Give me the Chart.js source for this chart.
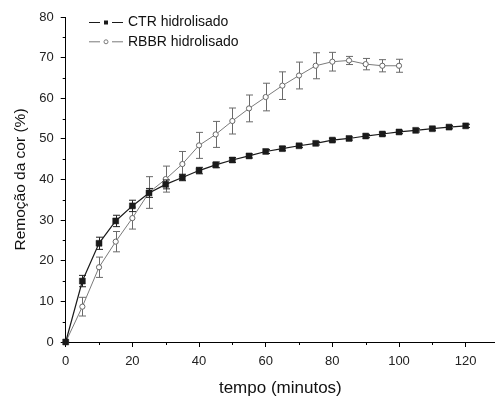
<!DOCTYPE html>
<html>
<head>
<meta charset="utf-8">
<script src="https://cdn.jsdelivr.net/npm/chart.js@4/dist/chart.umd.min.js"></script>
<style>
html,body{margin:0;padding:0;background:#fff;}
#c{display:block;}
</style>
</head>
<body>
<canvas id="c" width="495" height="397"></canvas>
<script>
// ---- data ----
const ctrTime = [0,5,10,15,20,25,30,35,40,45,50,55,60,65,70,75,80,85,90,95,100,105,110,115,120];
const ctrValues = [0,15.0,24.3,29.8,33.5,36.7,38.8,40.5,42.2,43.6,44.8,45.8,46.9,47.6,48.3,48.9,49.7,50.1,50.7,51.2,51.7,52.1,52.5,52.9,53.2];
const ctrErrors = [0,1.4,1.5,1.4,1.4,1.1,1.1,0.8,0.8,0.7,0.6,0.5,0.5,0.5,0.4,0.4,0.4,0.4,0.4,0.4,0.4,0.4,0.4,0.4,0.4];

const rbbrTime = [0,5,10,15,20,25,30,35,40,45,50,55,60,65,70,75,80,85,90,95,100];
const rbbrValues = [0,8.7,18.4,24.7,30.5,36.8,40.1,43.8,48.4,51.1,54.4,57.5,60.3,63.1,65.6,68.0,69.0,69.3,68.4,68.0,68.0];
const rbbrErrors = [0,2.3,2.5,2.5,2.7,3.9,3.2,3.1,3.2,3.2,3.2,3.3,3.4,3.4,3.3,3.2,2.3,1.0,1.4,1.5,1.6];

const seriesNames = ['CTR hidrolisado','RBBR hidrolisado'];
const xTitle = 'tempo (minutos)';
const yTitle = 'Remoção da cor (%)';

const FONT = "'Liberation Sans', Arial, sans-serif";
const CTR_COLOR = '#1a1a1a';
const RBBR_COLOR = '#7a7a7a';

function pts(xs, ys){ return xs.map((x,i)=>({x:x, y:ys[i]})); }

const errorBarPlugin = {
  id:'errorBars',
  beforeDatasetDraw(chart, args){
    const ds = chart.data.datasets[args.index];
    if(!ds.errors) return;
    const meta = chart.getDatasetMeta(args.index);
    const ys = chart.scales.y;
    const ctx = chart.ctx;
    ctx.save();
    ctx.strokeStyle = ds.errorColor;
    ctx.lineWidth = 1;
    meta.data.forEach((el,i)=>{
      const e = ds.errors[i];
      if(!e) return;
      const v = ds.data[i].y;
      const x = Math.round(el.x)+0.5;
      const yt = ys.getPixelForValue(v+e);
      const yb = ys.getPixelForValue(v-e);
      ctx.beginPath();
      ctx.moveTo(x,yt); ctx.lineTo(x,yb);
      ctx.moveTo(x-3.5,yt); ctx.lineTo(x+3.5,yt);
      ctx.moveTo(x-3.5,yb); ctx.lineTo(x+3.5,yb);
      ctx.stroke();
    });
    ctx.restore();
  }
};

const minorTickPlugin = {
  id:'minorTicks',
  afterDraw(chart){
    const ctx = chart.ctx;
    const xs = chart.scales.x, ys = chart.scales.y;
    ctx.save();
    ctx.strokeStyle = '#000';
    ctx.lineWidth = 1;
    ctx.beginPath();
    for(let v=10; v<=xs.max; v+=20){
      const px = Math.round(xs.getPixelForValue(v))+0.5;
      ctx.moveTo(px, ys.bottom); ctx.lineTo(px, ys.bottom+3);
    }
    for(let v=5; v<=ys.max; v+=10){
      const py = Math.round(ys.getPixelForValue(v))+0.5;
      ctx.moveTo(xs.left, py); ctx.lineTo(xs.left-3, py);
    }
    ctx.stroke();
    ctx.restore();
  }
};

const legendPlugin = {
  id:'insideLegend',
  afterDraw(chart){
    const ctx = chart.ctx;
    ctx.save();
    const rows = [
      {y:22.5, color:CTR_COLOR, style:'rect'},
      {y:41.8, color:RBBR_COLOR, style:'circle'}
    ];
    rows.forEach((r,i)=>{
      ctx.strokeStyle = r.color;
      ctx.lineWidth = 1;
      ctx.beginPath();
      ctx.moveTo(89, r.y); ctx.lineTo(100, r.y);
      ctx.moveTo(112, r.y); ctx.lineTo(123, r.y);
      ctx.stroke();
      if(r.style==='rect'){
        ctx.fillStyle = r.color;
        ctx.fillRect(104, r.y-2, 4, 4);
      } else {
        ctx.fillStyle = '#fff';
        ctx.beginPath();
        ctx.arc(106, r.y, 2, 0, Math.PI*2);
        ctx.fill(); ctx.stroke();
      }
      ctx.fillStyle = '#111';
      ctx.font = '14px ' + FONT;
      ctx.textBaseline = 'middle';
      ctx.textAlign = 'left';
      ctx.fillText(seriesNames[i], 128, r.y);
    });
    ctx.restore();
  }
};

new Chart(document.getElementById('c'), {
  type:'line',
  data:{
    datasets:[
      {
        label: seriesNames[0],
        data: pts(ctrTime, ctrValues),
        errors: ctrErrors,
        errorColor: '#222',
        borderColor: CTR_COLOR,
        borderWidth: 1.2,
        pointStyle: 'rect',
        pointRadius: 4.2,
        pointBackgroundColor: CTR_COLOR,
        pointBorderColor: CTR_COLOR,
        pointBorderWidth: 0.5,
        tension: 0,
        clip: false
      },
      {
        label: seriesNames[1],
        data: pts(rbbrTime, rbbrValues),
        errors: rbbrErrors,
        errorColor: '#6a6a6a',
        borderColor: RBBR_COLOR,
        borderWidth: 1,
        pointStyle: 'circle',
        pointRadius: 2.6,
        pointBackgroundColor: '#fff',
        pointBorderColor: '#666',
        pointBorderWidth: 1,
        tension: 0,
        clip: false
      }
    ]
  },
  options:{
    responsive:false,
    animation:false,
    devicePixelRatio:1,
    layout:{autoPadding:false, padding:{top:17,right:0,left:0,bottom:0}},
    plugins:{legend:{display:false}, tooltip:{enabled:false}},
    scales:{
      x:{
        type:'linear',
        min:0, max:128.8,
        afterFit(s){ s.height = 55; s.paddingRight = 0; },
        border:{display:true,color:'#000',width:1},
        grid:{drawOnChartArea:false, drawTicks:true, tickLength:5, color:'#000'},
        ticks:{stepSize:20, includeBounds:false, color:'#222', padding:7, font:{family:FONT,size:13}, maxRotation:0},
        title:{display:true, text:xTitle, color:'#111', font:{family:FONT,size:17,lineHeight:1}, padding:{top:0,bottom:0.5}}
      },
      y:{
        type:'linear',
        min:0, max:80,
        afterFit(s){ s.width = 65.7; },
        border:{display:true,color:'#000',width:1},
        grid:{drawOnChartArea:false, drawTicks:true, tickLength:5, color:'#000'},
        ticks:{stepSize:10, color:'#222', padding:7, font:{family:FONT,size:13}},
        title:{display:true, text:yTitle, color:'#111', font:{family:FONT,size:15.5,lineHeight:1.2}, padding:{top:11,bottom:0}}
      }
    }
  },
  plugins:[errorBarPlugin, minorTickPlugin, legendPlugin]
});
</script>
</body>
</html>
